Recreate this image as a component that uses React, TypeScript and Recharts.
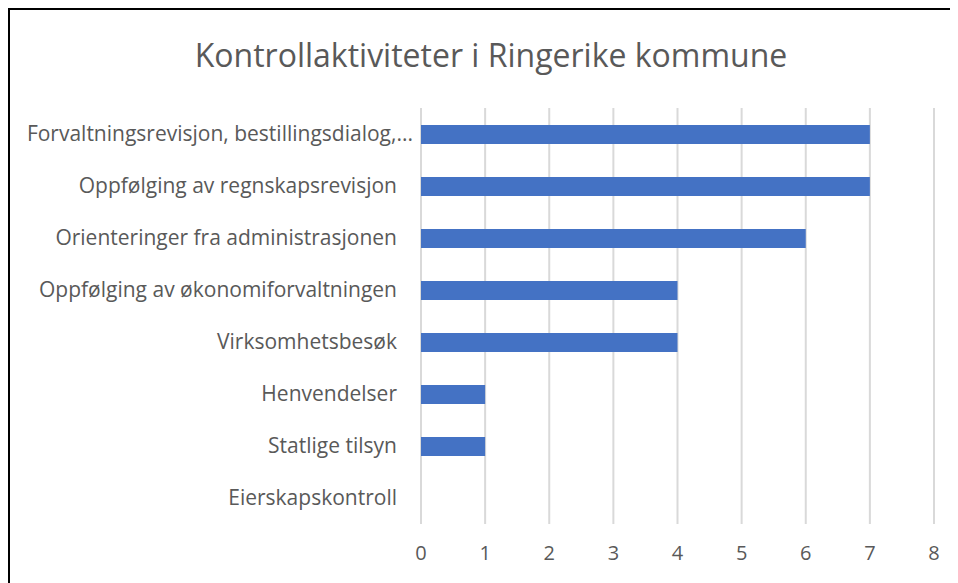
import { BarChart, Bar, XAxis, YAxis, CartesianGrid } from 'recharts';

const categories = [
  'Forvaltningsrevisjon, bestillingsdialog,...',
  'Oppfølging av regnskapsrevisjon',
  'Orienteringer fra administrasjonen',
  'Oppfølging av økonomiforvaltningen',
  'Virksomhetsbesøk',
  'Henvendelser',
  'Statlige tilsyn',
  'Eierskapskontroll',
];

const antall = [7, 7, 6, 4, 4, 1, 1, 0];

const xTicks = [0, 1, 2, 3, 4, 5, 6, 7, 8];

const data = categories.map((name, i) => ({ name, antall: antall[i] }));

const FONT = '"Open Sans", sans-serif';
const TEXT = '#595959';

// the truncated first label overhangs the others a bit, like in Excel
function CategoryTick(props: any) {
  const { x, y, payload, index } = props;
  const dx = index === 0 ? 16 : 0;
  return (
    <text
      x={x + dx}
      y={y}
      dy="0.355em"
      textAnchor="end"
      fill={TEXT}
      fontSize={21}
      fontFamily={FONT}
    >
      {payload.value}
    </text>
  );
}

export default function App() {
  return (
    <div
      style={{
        position: 'relative',
        width: 980,
        height: 600,
        borderLeft: '2px solid #000',
        borderTop: '2px solid #000',
        fontFamily: FONT,
      }}
    >
      <style>{'html, body { overflow: hidden; }'}</style>
      <div
        style={{
          position: 'absolute',
          left: 0,
          top: 24,
          width: 962,
          textAlign: 'center',
          fontSize: 32,
          lineHeight: '42px',
          color: TEXT,
        }}
      >
        Kontrollaktiviteter i Ringerike kommune
      </div>
      <BarChart
        width={948}
        height={565}
        data={data}
        layout="vertical"
        margin={{ top: 98, right: 24, left: 0, bottom: 11 }}
        barCategoryGap={0}
      >
        <CartesianGrid vertical horizontal={false} stroke="#d9d9d9" strokeWidth={2} />
        <XAxis
          type="number"
          domain={[0, 8]}
          ticks={xTicks}
          axisLine={false}
          tickLine={false}
          tickMargin={16}
          height={40}
          tick={{ fill: TEXT, fontSize: 20, fontFamily: FONT }}
        />
        <YAxis
          type="category"
          dataKey="name"
          width={411}
          axisLine={false}
          tickLine={false}
          tickMargin={18}
          interval={0}
          tick={<CategoryTick />}
        />
        <Bar dataKey="antall" fill="#4472C4" barSize={19} isAnimationActive={false} />
      </BarChart>
    </div>
  );
}
